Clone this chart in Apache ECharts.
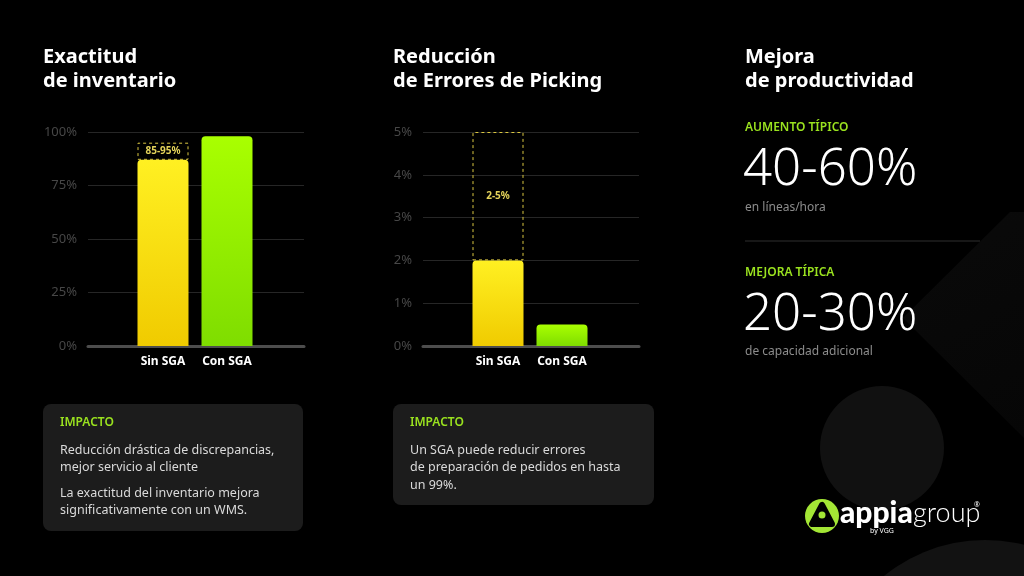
<!DOCTYPE html>
<html>
<head>
<meta charset="utf-8">
<script src="https://cdn.jsdelivr.net/npm/echarts@6/dist/echarts.min.js"></script>
<style>
  html, body { margin: 0; padding: 0; background: #000; }
  #main { width: 1024px; height: 576px; }
</style>
</head>
<body>
<div id="main"></div>
<script>
// data
var categories = ['Sin SGA', 'Con SGA'];

var exactitudValues = [87, 98];
var exactitudRangeHigh = [95, null];
var exactitudRangeLabel = '85-95%';
var exactitudMax = 100;
var exactitudStep = 25;

var erroresValues = [2, 0.5];
var erroresRangeHigh = [5, null];
var erroresRangeLabel = '2-5%';
var erroresMax = 5;
var erroresStep = 1;

var FONT = 'Noto Sans';
var GREEN = '#9ae21f';

var chart = echarts.init(document.getElementById('main'));

function rangePart(values, highs) {
    return highs.map(function (h, i) { return h == null ? '-' : h - values[i]; });
}

var yellowFill = new echarts.graphic.LinearGradient(0, 0, 0, 1, [
    { offset: 0, color: '#fff022' }, { offset: 1, color: '#f0cb00' }
]);
var greenFill = new echarts.graphic.LinearGradient(0, 0, 0, 1, [
    { offset: 0, color: '#a9ff00' }, { offset: 1, color: '#7fdd00' }
]);

function barData(values) {
    return values.map(function (v, i) {
        return { value: v, itemStyle: { color: i == 0 ? yellowFill : greenFill } };
    });
}

function bgYAxis(grid, max, step) {
    return {
        gridIndex: grid, type: 'value', min: 0, max: max, interval: step,
        axisLabel: { formatter: '{value}%', color: '#474747', fontSize: 13, margin: 11, fontFamily: FONT },
        axisLine: { show: false }, axisTick: { show: false },
        splitLine: { lineStyle: { color: '#262626', width: 1 } }
    };
}
function barYAxis(grid, max) {
    return { gridIndex: grid, type: 'value', min: 0, max: max, show: false, splitLine: { show: false } };
}
function bgXAxis(grid) {
    return {
        gridIndex: grid, type: 'category', data: [],
        axisLine: { lineStyle: { color: '#4d4d4d', width: 3 } },
        axisTick: { show: false }, axisLabel: { show: false }
    };
}
function barXAxis(grid) {
    return {
        gridIndex: grid, type: 'category', data: categories,
        axisLine: { show: false }, axisTick: { show: false },
        axisLabel: { interval: 0, color: '#fff', fontSize: 12, fontWeight: 'bold', margin: 10, fontFamily: FONT }
    };
}
function rangeSeries(axis, values, highs, label) {
    return {
        type: 'bar', xAxisIndex: axis, yAxisIndex: axis, stack: 's' + axis, barWidth: 51,
        data: rangePart(values, highs),
        itemStyle: { color: 'rgba(0,0,0,0)', borderColor: '#d9c640', borderWidth: 1, borderType: [3, 3] },
        label: { show: true, position: 'inside', formatter: label, color: '#e3d25a', fontSize: 10, fontWeight: 'bold', fontFamily: FONT },
        z: 3
    };
}

function txt(x, y, text, size, color, weight, extra) {
    var s = { x: x, y: y, text: text, fontSize: size, fill: color, fontWeight: weight || 'normal',
              fontFamily: FONT, verticalAlign: 'middle' };
    if (extra) for (var k in extra) s[k] = extra[k];
    return { type: 'text', style: s };
}

var graphics = [
    // background shapes
    { type: 'polygon', z: -10, shape: { points: [[1010, 212], [903, 318], [1024, 438], [1024, 212]] },
      style: { fill: new echarts.graphic.LinearGradient(0, 0, 1, 1, [
          { offset: 0, color: '#0a0a0a' }, { offset: 1, color: '#060606' }]) } },
    { type: 'circle', z: -10, shape: { cx: 882, cy: 448, r: 62 }, style: { fill: '#111111' } },
    { type: 'circle', z: -10, shape: { cx: 985, cy: 700, r: 160 }, style: { fill: '#121212' } },

    // impact boxes
    { type: 'rect', shape: { x: 43, y: 404, width: 260, height: 127, r: 8 }, style: { fill: '#1c1c1c' } },
    txt(60, 423, 'IMPACTO', 12, GREEN, 600),
    txt(60, 450, 'Reducción drástica de discrepancias,', 12.5, '#dadada'),
    txt(60, 467, 'mejor servicio al cliente', 12.5, '#dadada'),
    txt(60, 493, 'La exactitud del inventario mejora', 12.5, '#dadada'),
    txt(60, 510, 'significativamente con un WMS.', 12.5, '#dadada'),

    { type: 'rect', shape: { x: 393, y: 404, width: 261, height: 101, r: 8 }, style: { fill: '#1c1c1c' } },
    txt(410, 423, 'IMPACTO', 12, GREEN, 600),
    txt(410, 450, 'Un SGA puede reducir errores', 12.5, '#dadada'),
    txt(410, 467, 'de preparación de pedidos en hasta', 12.5, '#dadada'),
    txt(410, 485, 'un 99%.', 12.5, '#dadada'),

    // productivity panel
    txt(745, 128, 'AUMENTO TÍPICO', 12, GREEN, 600),
    txt(743, 170, '40-60%', 51, '#ffffff', 300),
    txt(745, 208, 'en líneas/hora', 12, '#8c8c8c'),
    { type: 'line', shape: { x1: 745, y1: 241, x2: 980, y2: 241 }, style: { stroke: '#2e2e2e', lineWidth: 1 } },
    txt(745, 273, 'MEJORA TÍPICA', 12, GREEN, 600),
    txt(743, 315, '20-30%', 51, '#ffffff', 300),
    txt(745, 352, 'de capacidad adicional', 12, '#8c8c8c'),

    // logo
    { type: 'circle', shape: { cx: 822, cy: 516, r: 17 }, style: { fill: '#a3e635' } },
    { type: 'polygon', shape: { points: [[822, 505], [812, 524], [832, 524]] },
      style: { fill: '#000', stroke: '#000', lineWidth: 6, lineJoin: 'round' } },
    { type: 'circle', shape: { cx: 822, cy: 515, r: 3.5 }, style: { fill: '#a3e635' } },
    txt(840, 513, 'appia', 30, '#ffffff', 900, { fontFamily: 'Lato' }),
    txt(913, 513, 'group', 27, '#ffffff', 300, { fontFamily: 'Lato' }),
    txt(974, 505, '®', 7, '#ffffff'),
    txt(870, 531, 'by VGG', 7, '#ffffff')
];

var option = {
    backgroundColor: '#000',
    animation: false,
    textStyle: { fontFamily: FONT },
    title: [
        { text: 'Exactitud\nde inventario', left: 43, top: 45 },
        { text: 'Reducción\nde Errores de Picking', left: 393, top: 45 },
        { text: 'Mejora\nde productividad', left: 745, top: 45 }
    ].map(function (t) {
        t.padding = 0;
        t.textStyle = { color: '#fff', fontSize: 20, fontWeight: 'bold', lineHeight: 24, fontFamily: FONT };
        return t;
    }),
    grid: [
        { left: 88, width: 216, top: 132, bottom: 230 },
        { left: 131, width: 128, top: 132, bottom: 230 },
        { left: 423, width: 216, top: 132, bottom: 230 },
        { left: 466, width: 128, top: 132, bottom: 230 }
    ],
    xAxis: [bgXAxis(0), barXAxis(1), bgXAxis(2), barXAxis(3)],
    yAxis: [
        bgYAxis(0, exactitudMax, exactitudStep), barYAxis(1, exactitudMax),
        bgYAxis(2, erroresMax, erroresStep), barYAxis(3, erroresMax)
    ],
    series: [
        { type: 'bar', xAxisIndex: 1, yAxisIndex: 1, stack: 's1', barWidth: 51,
          data: barData(exactitudValues), itemStyle: { borderRadius: [4, 4, 0, 0] } },
        rangeSeries(1, exactitudValues, exactitudRangeHigh, exactitudRangeLabel),
        { type: 'bar', xAxisIndex: 3, yAxisIndex: 3, stack: 's3', barWidth: 51,
          data: barData(erroresValues), itemStyle: { borderRadius: [4, 4, 0, 0] } },
        rangeSeries(3, erroresValues, erroresRangeHigh, erroresRangeLabel)
    ],
    graphic: graphics
};

chart.setOption(option);
</script>
</body>
</html>
